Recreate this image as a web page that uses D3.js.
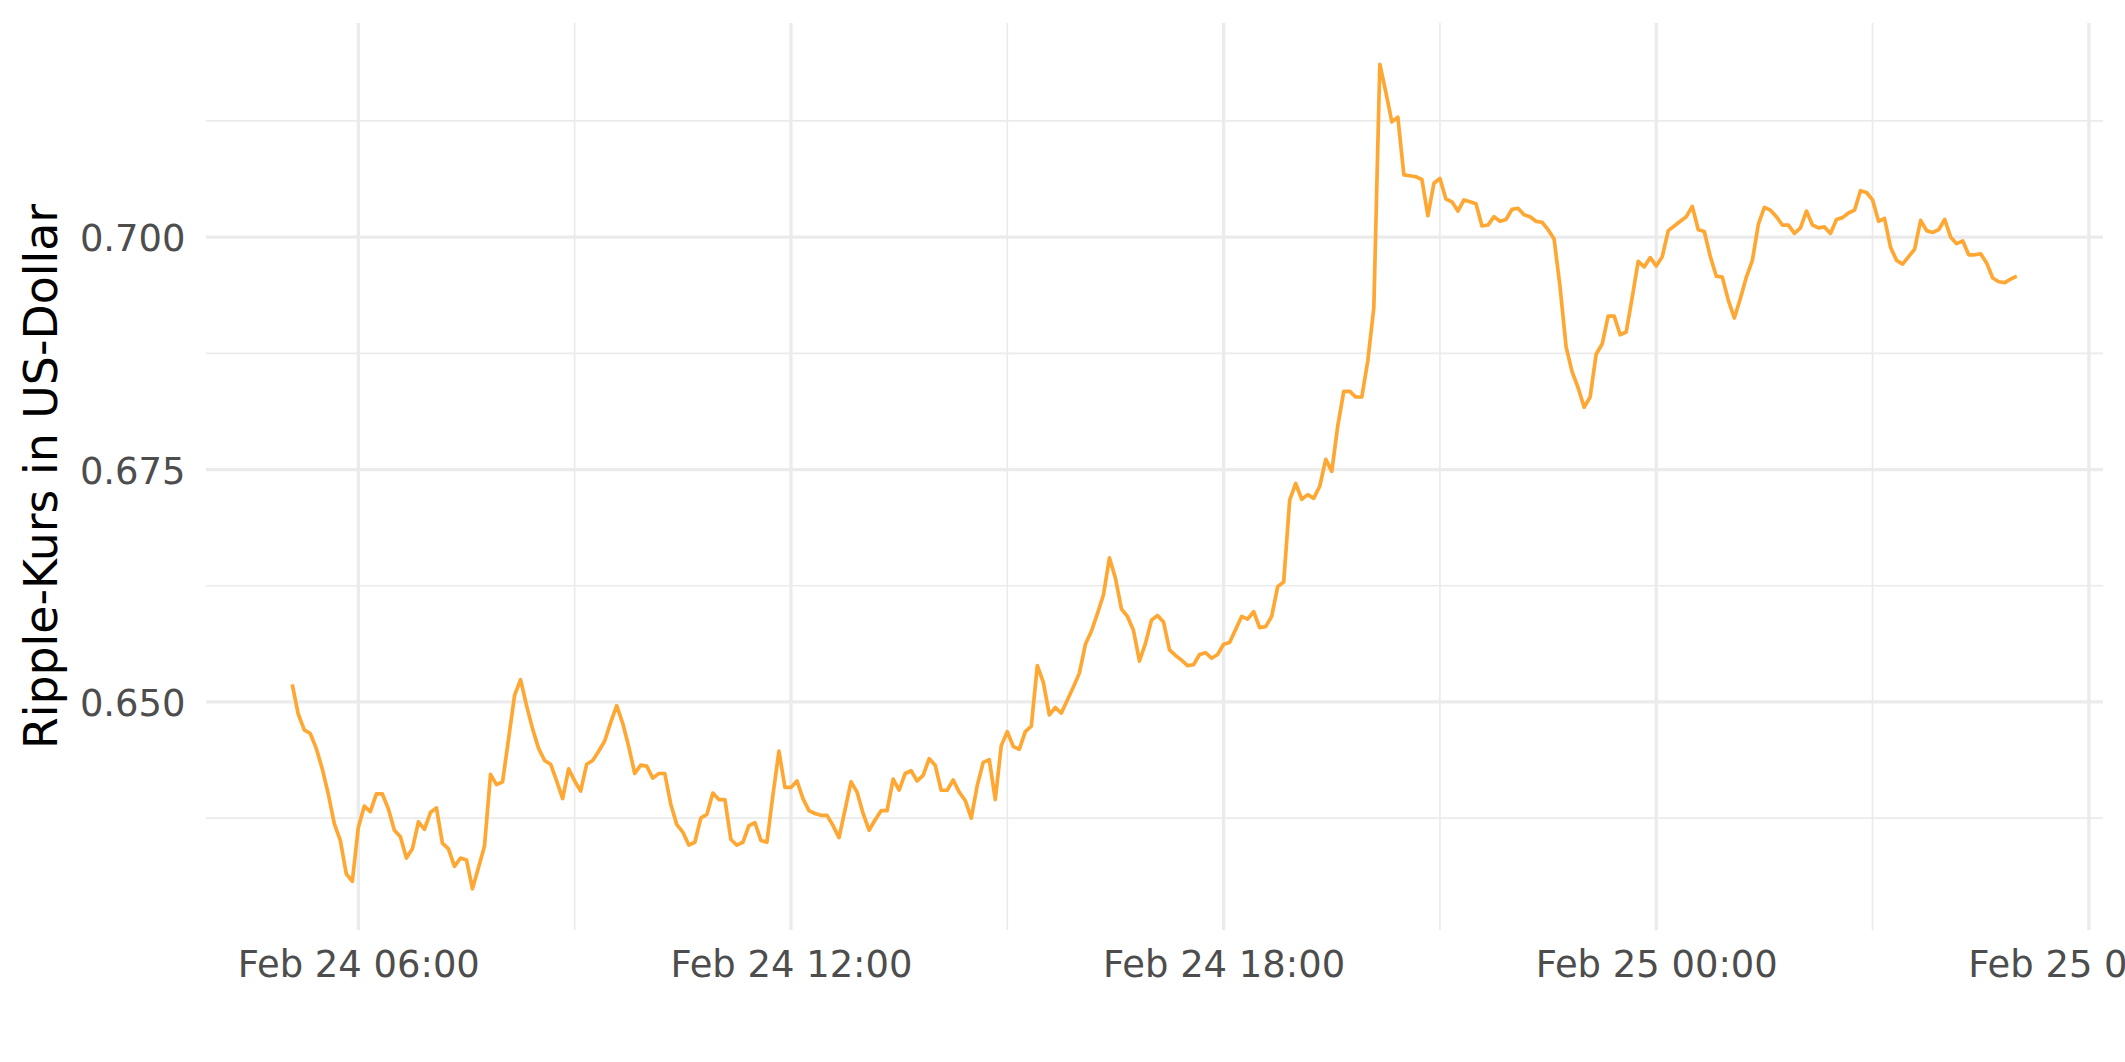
<!DOCTYPE html>
<html>
<head>
<meta charset="utf-8">
<script src="https://cdn.jsdelivr.net/npm/d3@7"></script>
<style>
  html, body { margin: 0; padding: 0; background: #ffffff; }
  svg { display: block; }
</style>
</head>
<body>
<script>
// ---- data: XRP price in USD, 5-minute steps starting Feb 24 05:05 ----
const startTime = "2024-02-24T05:05:00Z";
const stepMinutes = 5;
const prices = [
  0.6519,0.6487,0.6470,0.6466,0.6450,0.6428,0.6401,0.6369,0.6351,0.6315,
  0.6307,0.6365,0.6388,0.6382,0.6401,0.6401,0.6385,0.6362,0.6355,0.6332,
  0.6342,0.6371,0.6363,0.6381,0.6386,0.6348,0.6342,0.6323,0.6332,0.6330,
  0.6299,0.6322,0.6345,0.6422,0.6411,0.6414,0.6460,0.6507,0.6524,0.6496,
  0.6471,0.6450,0.6437,0.6433,0.6415,0.6396,0.6428,0.6415,0.6404,0.6433,
  0.6437,0.6447,0.6458,0.6478,0.6496,0.6477,0.6452,0.6423,0.6432,0.6431,
  0.6418,0.6423,0.6423,0.6390,0.6368,0.6360,0.6346,0.6349,0.6375,0.6379,
  0.6402,0.6395,0.6395,0.6352,0.6346,0.6349,0.6367,0.6370,0.6351,0.6349,
  0.6400,0.6447,0.6408,0.6408,0.6415,0.6396,0.6383,0.6380,0.6378,0.6378,
  0.6367,0.6354,0.6384,0.6414,0.6403,0.6380,0.6362,0.6373,0.6383,0.6383,
  0.6417,0.6405,0.6423,0.6426,0.6415,0.6421,0.6439,0.6432,0.6405,0.6405,
  0.6416,0.6403,0.6394,0.6375,0.6410,0.6435,0.6438,0.6395,0.6453,0.6468,
  0.6452,0.6449,0.6468,0.6474,0.6539,0.6521,0.6486,0.6494,0.6488,0.6502,
  0.6516,0.6531,0.6562,0.6576,0.6595,0.6615,0.6655,0.6633,0.6600,0.6592,
  0.6577,0.6544,0.6563,0.6588,0.6593,0.6586,0.6556,0.6550,0.6545,0.6539,
  0.6540,0.6551,0.6553,0.6547,0.6551,0.6562,0.6564,0.6578,0.6592,0.6589,
  0.6597,0.6580,0.6581,0.6592,0.6624,0.6629,0.6717,0.6735,0.6718,0.6723,
  0.6719,0.6732,0.6761,0.6748,0.6797,0.6834,0.6834,0.6828,0.6828,0.6867,
  0.6924,0.7186,0.7156,0.7124,0.7129,0.7067,0.7066,0.7065,0.7062,0.7023,
  0.7058,0.7063,0.7041,0.7038,0.7028,0.7040,0.7038,0.7036,0.7012,0.7013,
  0.7022,0.7017,0.7019,0.7030,0.7031,0.7024,0.7022,0.7017,0.7016,0.7008,
  0.6998,0.6946,0.6882,0.6855,0.6838,0.6817,0.6828,0.6874,0.6885,0.6915,
  0.6915,0.6895,0.6898,0.6935,0.6974,0.6968,0.6978,0.6969,0.6979,0.7007,
  0.7012,0.7017,0.7022,0.7033,0.7008,0.7006,0.6979,0.6958,0.6957,0.6932,
  0.6913,0.6934,0.6957,0.6975,0.7014,0.7032,0.7029,0.7022,0.7013,0.7013,
  0.7004,0.7010,0.7028,0.7013,0.7010,0.7011,0.7004,0.7019,0.7021,0.7026,
  0.7029,0.7050,0.7048,0.7040,0.7017,0.7020,0.6989,0.6975,0.6971,0.6979,
  0.6987,0.7018,0.7007,0.7005,0.7008,0.7019,0.7000,0.6993,0.6996,0.6981,
  0.6981,0.6982,0.6972,0.6956,0.6952,0.6951,0.6955,0.6958
];
const yTickValues = [0.650, 0.675, 0.700];
const yMinorValues = [0.6375, 0.6625, 0.6875, 0.7125];
const xTickTimes = ["2024-02-24T06:00:00Z","2024-02-24T12:00:00Z","2024-02-24T18:00:00Z","2024-02-25T00:00:00Z","2024-02-25T06:00:00Z"];
const xMinorTimes = ["2024-02-24T09:00:00Z","2024-02-24T15:00:00Z","2024-02-24T21:00:00Z","2024-02-25T03:00:00Z"];
const xTickLabels = ["Feb 24 06:00","Feb 24 12:00","Feb 24 18:00","Feb 25 00:00","Feb 25 06:00"];
const yTitle = "Ripple-Kurs in US-Dollar";

// ---- build ----
const W = 2125, H = 1062;
const panel = { left: 206, right: 2103, top: 23, bottom: 930 };
const t0 = new Date(startTime);
const data = prices.map((v, i) => ({ t: d3.utcMinute.offset(t0, i * stepMinutes), v }));

function expand(ext, f) { const d = (ext[1] - ext[0]) * f; return [ext[0] - d, ext[1] + d]; }
const xDom = d3.extent(data, d => d.t);
const xPad = (xDom[1] - xDom[0]) * 0.05;
const x = d3.scaleUtc()
  .domain([new Date(+xDom[0] - xPad), new Date(+xDom[1] + xPad)])
  .range([panel.left, panel.right]);
const y = d3.scaleLinear()
  .domain(expand(d3.extent(data, d => d.v), 0.05))
  .range([panel.bottom, panel.top]);

const svg = d3.select("body").append("svg")
  .attr("width", W).attr("height", H)
  .style("font-family", "'DejaVu Sans', sans-serif");
svg.append("rect").attr("width", W).attr("height", H).attr("fill", "#ffffff");

const grid = svg.append("g");
// minor grid
grid.selectAll(".ymin").data(yMinorValues).join("line")
  .attr("x1", panel.left).attr("x2", panel.right)
  .attr("y1", d => y(d)).attr("y2", d => y(d))
  .attr("stroke", "#EBEBEB").attr("stroke-width", 1.7);
grid.selectAll(".xmin").data(xMinorTimes.map(s => new Date(s))).join("line")
  .attr("x1", d => x(d)).attr("x2", d => x(d))
  .attr("y1", panel.top).attr("y2", panel.bottom)
  .attr("stroke", "#EBEBEB").attr("stroke-width", 1.7);
// major grid
grid.selectAll(".ymaj").data(yTickValues).join("line")
  .attr("x1", panel.left).attr("x2", panel.right)
  .attr("y1", d => y(d)).attr("y2", d => y(d))
  .attr("stroke", "#EBEBEB").attr("stroke-width", 3.3);
grid.selectAll(".xmaj").data(xTickTimes.map(s => new Date(s))).join("line")
  .attr("x1", d => x(d)).attr("x2", d => x(d))
  .attr("y1", panel.top).attr("y2", panel.bottom)
  .attr("stroke", "#EBEBEB").attr("stroke-width", 3.3);

// line
const line = d3.line().x(d => x(d.t)).y(d => y(d.v));
svg.append("path").datum(data)
  .attr("d", line)
  .attr("fill", "none")
  .attr("stroke", "#FFA733")
  .attr("stroke-width", 3.7)
  .attr("stroke-linejoin", "round")
  .attr("stroke-linecap", "butt");

// x axis labels
const xAxis = d3.axisBottom(x)
  .tickValues(xTickTimes.map(s => new Date(s)))
  .tickFormat((d, i) => xTickLabels[i])
  .tickSize(0).tickPadding(0);
const gx = svg.append("g").attr("transform", `translate(0,${panel.bottom})`).call(xAxis);
gx.select(".domain").remove();
gx.selectAll("text")
  .attr("dy", null).attr("y", 47)
  .attr("fill", "#4D4D4D").style("font-size", "36.9px")
  .style("font-family", "'DejaVu Sans', sans-serif");

// y axis labels
const yAxis = d3.axisLeft(y)
  .tickValues(yTickValues)
  .tickFormat(d3.format(".3f"))
  .tickSize(0).tickPadding(0);
const gy = svg.append("g").attr("transform", `translate(${panel.left - 20.5},0)`).call(yAxis);
gy.select(".domain").remove();
gy.selectAll("text")
  .attr("dy", null).attr("y", 13.5).attr("x", 0)
  .attr("fill", "#4D4D4D").style("font-size", "36.9px")
  .style("font-family", "'DejaVu Sans', sans-serif");

// y title
svg.append("text")
  .attr("transform", `translate(57,${(panel.top + panel.bottom) / 2}) rotate(-90)`)
  .attr("text-anchor", "middle")
  .attr("fill", "#000000")
  .style("font-size", "45.8px")
  .text(yTitle);
</script>
</body>
</html>
